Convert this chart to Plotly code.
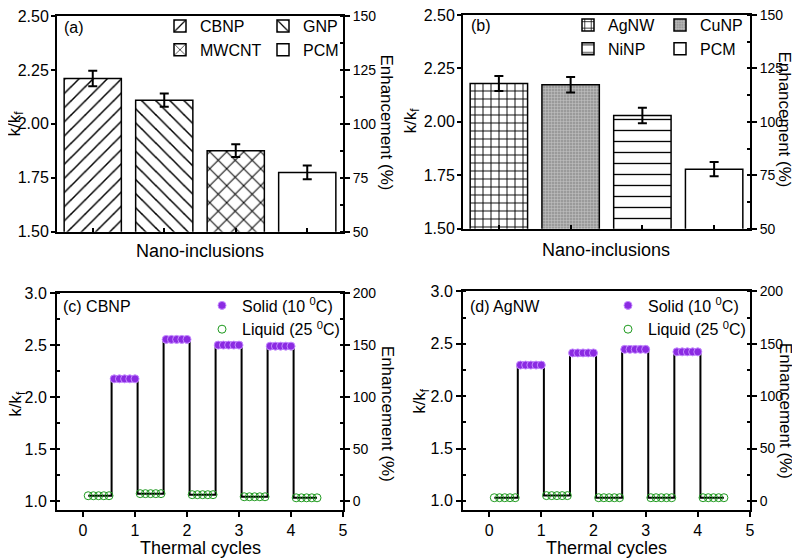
import plotly.graph_objects as go

# page body has an 8px margin: figure is drawn 8px in from the window's top-left corner
OFF = 8
W, H = 800 - OFF, 559 - OFF

# ---------------- data ----------------
cats_a = ["CBNP", "GNP", "MWCNT", "PCM"]
vals_a = [2.21, 2.11, 1.876, 1.775]
err_a = [0.036, 0.031, 0.030, 0.032]

cats_b = ["AgNW", "CuNP", "NiNP", "PCM"]
vals_b = [2.18, 2.174, 2.03, 1.779]
err_b = [0.035, 0.036, 0.036, 0.033]

liquid_x = [0.1, 0.2, 0.3, 0.4, 0.5,
            1.1, 1.2, 1.3, 1.4, 1.5,
            2.1, 2.2, 2.3, 2.4, 2.5,
            3.1, 3.2, 3.3, 3.4, 3.5,
            4.1, 4.2, 4.3, 4.4, 4.5]
solid_x = [0.6, 0.7, 0.8, 0.9, 1.0,
           1.6, 1.7, 1.8, 1.9, 2.0,
           2.6, 2.7, 2.8, 2.9, 3.0,
           3.6, 3.7, 3.8, 3.9, 4.0]

liquid_c = [1.05, 1.05, 1.05, 1.05, 1.05,
            1.07, 1.07, 1.07, 1.07, 1.07,
            1.06, 1.06, 1.06, 1.06, 1.06,
            1.04, 1.04, 1.04, 1.04, 1.04,
            1.03, 1.03, 1.03, 1.03, 1.03]
solid_c = [2.175, 2.175, 2.175, 2.175, 2.175,
           2.555, 2.555, 2.555, 2.555, 2.555,
           2.50, 2.50, 2.50, 2.50, 2.50,
           2.49, 2.49, 2.49, 2.49, 2.49]

liquid_d = [1.03, 1.03, 1.03, 1.03, 1.03,
            1.05, 1.05, 1.05, 1.05, 1.05,
            1.03, 1.03, 1.03, 1.03, 1.03,
            1.03, 1.03, 1.03, 1.03, 1.03,
            1.03, 1.03, 1.03, 1.03, 1.03]
solid_d = [2.297, 2.297, 2.297, 2.297, 2.297,
           2.413, 2.413, 2.413, 2.413, 2.413,
           2.447, 2.447, 2.447, 2.447, 2.447,
           2.423, 2.423, 2.423, 2.423, 2.423]

patterns_a = [dict(shape="/", size=10, solidity=0.15, fgcolor="black", bgcolor="white", fgopacity=1),
              dict(shape="\\", size=10, solidity=0.15, fgcolor="black", bgcolor="white", fgopacity=1),
              dict(shape="x", size=12, solidity=0.16, fgcolor="black", bgcolor="white", fgopacity=1),
              dict(shape="", fgcolor="black", bgcolor="white")]
patterns_b = [dict(shape="+", size=8, solidity=0.22, fgcolor="black", bgcolor="white", fgopacity=1),
              dict(shape="+", size=3, solidity=0.3, fgcolor="#c8c8c8", bgcolor="#9a9a9a", fgopacity=1),
              dict(shape="-", size=11, solidity=0.12, fgcolor="black", bgcolor="white", fgopacity=1),
              dict(shape="", fgcolor="black", bgcolor="white")]
legend_a = ["legend", "legend2", "legend", "legend2"]
legend_b = ["legend3", "legend4", "legend3", "legend4"]

FONT = "Liberation Sans, Arial, sans-serif"
PURPLE = "#8B2BE2"
GREEN = "#1F9A1F"

fig = go.Figure()

# ---- bar panels ----
for cats, vals, errs, pats, legs, xa, ya, ya2 in [
        (cats_a, vals_a, err_a, patterns_a, legend_a, "x", "y", "y5"),
        (cats_b, vals_b, err_b, patterns_b, legend_b, "x2", "y2", "y6")]:
    for c, v, e, p, lg in zip(cats, vals, errs, pats, legs):
        fig.add_trace(go.Bar(
            x=[c], y=[v], name=c, xaxis=xa, yaxis=ya, width=0.8,
            marker=dict(color=p["bgcolor"], pattern=p, line=dict(color="black", width=1.5)),
            error_y=dict(type="data", array=[e], color="black", thickness=2, width=4.5),
            legend=lg, showlegend=True))
    # invisible trace on the enhancement axis
    fig.add_trace(go.Scatter(x=cats, y=[(v - 1) * 100 for v in vals], xaxis=xa, yaxis=ya2,
                             mode="markers", marker=dict(opacity=0, size=1),
                             showlegend=False, hoverinfo="skip"))

# ---- cycle panels ----
for lx, ly, sx, sy, xa, ya, ya2, lg in [
        (liquid_x, liquid_c, solid_x, solid_c, "x3", "y3", "y7", "legend5"),
        (liquid_x, liquid_d, solid_x, solid_d, "x4", "y4", "y8", "legend6")]:
    allp = sorted(list(zip(lx, ly)) + list(zip(sx, sy)))
    fig.add_trace(go.Scatter(x=[p[0] for p in allp], y=[p[1] for p in allp],
                             mode="lines", line=dict(color="black", width=2, shape="hvh"),
                             xaxis=xa, yaxis=ya, showlegend=False, hoverinfo="skip"))
    fig.add_trace(go.Scatter(x=sx, y=sy, mode="markers", name="Solid (10 <sup>0</sup>C)",
                             marker=dict(symbol="circle", size=8, color=PURPLE,
                                         line=dict(color="#C58BFF", width=1)),
                             xaxis=xa, yaxis=ya, legend=lg))
    fig.add_trace(go.Scatter(x=lx, y=ly, mode="markers", name="Liquid (25 <sup>0</sup>C)",
                             marker=dict(symbol="circle-open", size=8, color=GREEN,
                                         line=dict(width=1)),
                             xaxis=xa, yaxis=ya, legend=lg))
    fig.add_trace(go.Scatter(x=sx, y=[(v - 1) * 100 for v in sy], xaxis=xa, yaxis=ya2,
                             mode="markers", marker=dict(opacity=0, size=1),
                             showlegend=False, hoverinfo="skip"))

def fxr(p):
    return (p - OFF) / W

def fyr(p):
    return 1 - (p - OFF) / H

def fx(p):
    return min(1.0, max(0.0, fxr(p)))

def fy(p):
    return min(1.0, max(0.0, fyr(p)))

def yax(size, **kw):
    d = dict(showline=True, linecolor="black", linewidth=2, ticks="outside", ticklen=5,
             tickwidth=2, tickcolor="black", showgrid=False, zeroline=False,
             tickfont=dict(family=FONT, size=size, color="black"), automargin=False,
             ticklabeloverflow="allow")
    d.update(kw)
    return d

common_x = dict(showline=True, linecolor="black", linewidth=2, mirror=True, showgrid=False,
                zeroline=False, tickfont=dict(family=FONT, size=16, color="black"),
                automargin=False, tickcolor="black", tickwidth=2, ticklabeloverflow="allow")

dom_xa = [fx(57), fx(343)]
dom_xb = [fx(463), fx(750)]
dom_ya = [fy(230), fy(13)]
dom_yb = [fy(227), fy(12)]
dom_yc = [fy(510), fy(291.7)]
dom_yd = [fy(510), fy(290)]

minor_r_bar = dict(dtick=12.5, ticks="inside", ticklen=3, tickcolor="black", tickwidth=1.5)
minor_l_cyc = dict(dtick=0.25, ticks="inside", ticklen=3, tickcolor="black", tickwidth=1.5)
minor_r_cyc = dict(dtick=25, ticks="inside", ticklen=3, tickcolor="black", tickwidth=1.5)

fig.update_layout(
    width=W, height=H, margin=dict(l=0, r=0, t=0, b=0),
    paper_bgcolor="white", plot_bgcolor="white",
    font=dict(family=FONT, color="black"),
    barmode="overlay",
    xaxis=dict(domain=dom_xa, anchor="y", showticklabels=False, ticks="inside", ticklen=4,
               range=[-0.5, 3.5], **common_x),
    yaxis=yax(16, domain=dom_ya, anchor="x", range=[1.5, 2.5], dtick=0.25, tickformat=".2f",
              ticklen=4, ticklabelstandoff=-1),
    yaxis5=yax(14, overlaying="y", side="right", anchor="x", range=[50, 150], dtick=25,
               minor=minor_r_bar),
    xaxis2=dict(domain=dom_xb, anchor="y2", showticklabels=False, ticks="inside", ticklen=4,
                range=[-0.5, 3.5], **common_x),
    yaxis2=yax(16, domain=dom_yb, anchor="x2", range=[1.5, 2.5], dtick=0.25, tickformat=".2f",
               ticklen=4, ticklabelstandoff=-1),
    yaxis6=yax(14, overlaying="y2", side="right", anchor="x2", range=[50, 150], dtick=25,
               minor=minor_r_bar),
    xaxis3=dict(domain=dom_xa, anchor="y3", range=[-0.5, 5], dtick=1, ticks="outside", ticklen=5,
                **common_x),
    yaxis3=yax(16, domain=dom_yc, anchor="x3", range=[0.91, 3.0], dtick=0.5, tickformat=".1f",
               minor=minor_l_cyc),
    yaxis7=yax(14, overlaying="y3", side="right", anchor="x3", range=[-9, 200], dtick=50,
               minor=minor_r_cyc),
    xaxis4=dict(domain=dom_xb, anchor="y4", range=[-0.5, 5], dtick=1, ticks="outside", ticklen=5,
                **common_x),
    yaxis4=yax(16, domain=dom_yd, anchor="x4", range=[0.91, 3.0], dtick=0.5, tickformat=".1f",
               minor=minor_l_cyc),
    yaxis8=yax(14, overlaying="y4", side="right", anchor="x4", range=[-9, 200], dtick=50,
               minor=minor_r_cyc),
)

legfont = dict(family=FONT, size=16, color="black")
leg_common = dict(bgcolor="rgba(0,0,0,0)", borderwidth=0, font=legfont, xanchor="left",
                  yanchor="top", tracegroupgap=0, itemclick=False)
fig.update_layout(
    legend=dict(x=fxr(160), y=fyr(6), **leg_common),
    legend2=dict(x=fxr(263), y=fyr(6), **leg_common),
    legend3=dict(x=fxr(568), y=fyr(5), **leg_common),
    legend4=dict(x=fxr(660), y=fyr(5), **leg_common),
    legend5=dict(x=fxr(202), y=fyr(287), **leg_common),
    legend6=dict(x=fxr(608), y=fyr(287), **leg_common),
)

ann = []
def add_text(text, x, y, angle=0, size=16, xanchor="center", yanchor="middle"):
    ann.append(dict(text=text, x=fx(x), y=fy(y), xref="paper", yref="paper", showarrow=False,
                    textangle=angle, xanchor=xanchor, yanchor=yanchor,
                    font=dict(family=FONT, size=size, color="black")))

add_text("(a)", 62, 25, xanchor="left")
add_text("(b)", 469, 23, xanchor="left")
add_text("(c) CBNP", 61, 305, xanchor="left")
add_text("(d) AgNW", 468, 305, xanchor="left")
add_text("Nano-inclusions", 200, 249, size=18)
add_text("Nano-inclusions", 606, 248, size=18)
add_text("Thermal cycles", 200, 548, size=18)
add_text("Thermal cycles", 606, 548, size=18)
for x, y in [(16, 121), (412, 118), (17, 403), (421, 400)]:
    add_text("k/k<sub>f</sub>", x, y, angle=-90, size=17)
for x, y in [(387, 120), (785, 117), (387, 413), (785, 410)]:
    add_text("Enhancement (%)", x, y, angle=90, size=17)
fig.update_layout(annotations=ann)

fig.write_html("out.html")
